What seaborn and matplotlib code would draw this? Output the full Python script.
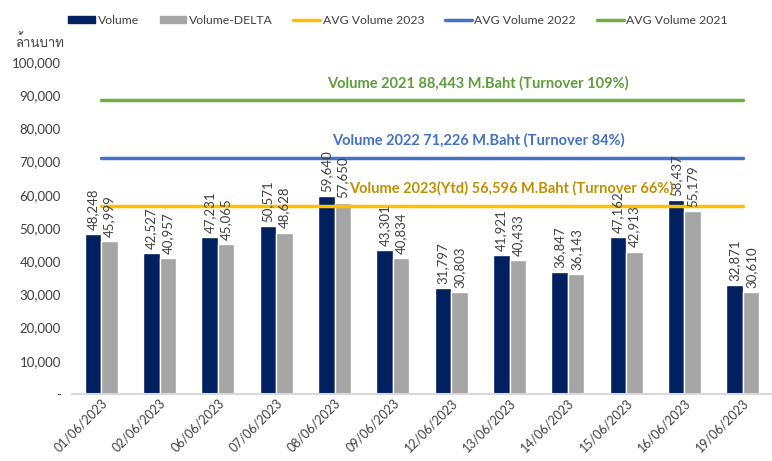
import numpy as np
import pandas as pd
import matplotlib
matplotlib.use("Agg")
import matplotlib.pyplot as plt
import seaborn as sns
from matplotlib import font_manager
from matplotlib.ft2font import FT2Font
from matplotlib.lines import Line2D
from matplotlib.patches import Patch

# data
dates = ["01/06/2023", "02/06/2023", "06/06/2023", "07/06/2023", "08/06/2023", "09/06/2023",
         "12/06/2023", "13/06/2023", "14/06/2023", "15/06/2023", "16/06/2023", "19/06/2023"]
volume = [48248, 42527, 47231, 50571, 59640, 43301, 31797, 41921, 36847, 47162, 58437, 32871]
volume_delta = [45999, 40957, 45065, 48628, 57650, 40834, 30803, 40433, 36143, 42913, 55179, 30610]
avg_2023 = 56596
avg_2022 = 71226
avg_2021 = 88443
y_ticks = [0, 10000, 20000, 30000, 40000, 50000, 60000, 70000, 80000, 90000, 100000]


def find_thai_font():
    # look for any installed font that carries Thai glyphs
    for f in font_manager.fontManager.ttflist:
        try:
            ft = FT2Font(f.fname)
            if ft.get_char_index(ord("ล")) and ft.get_char_index(ord("บ")):
                return f.name
        except Exception:
            continue
    return None


sns.set_style("white")
plt.rcParams["font.family"] = ["Lato", "DejaVu Sans"]
thai_font = find_thai_font()

df = pd.DataFrame({
    "date": dates * 2,
    "value": volume + volume_delta,
    "series": ["Volume"] * len(dates) + ["Volume-DELTA"] * len(dates),
})

fig = plt.figure(figsize=(7.72, 4.61), dpi=100)
ax = fig.add_axes([72 / 772, 1 - 394 / 461, 1 - 72 / 772, (394 - 62) / 461])

sns.barplot(data=df, x="date", y="value", hue="series",
            palette={"Volume": "#002060", "Volume-DELTA": "#A5A5A5"},
            width=0.57, gap=0, ax=ax, legend=False, saturation=1)

for cont in ax.containers:
    ax.bar_label(cont, labels=[f"{v:,.0f}" for v in cont.datavalues],
                 rotation=90, padding=3, fontsize=9.5, color="#404040")

x = np.arange(len(dates))
ax.plot(x, [avg_2023] * len(x), color="#FFC000", lw=2.5)
ax.plot(x, [avg_2022] * len(x), color="#4472C4", lw=2.5)
ax.plot(x, [avg_2021] * len(x), color="#70AD47", lw=2.5)

ax.text(6.45, 93700, f"Volume 2021 {avg_2021:,} M.Baht (Turnover 109%)",
        color="#5E9E3A", fontsize=10.5, fontweight="bold", ha="center", va="center")
ax.text(6.47, 76500, f"Volume 2022 {avg_2022:,} M.Baht (Turnover 84%)",
        color="#4472C4", fontsize=10.5, fontweight="bold", ha="center", va="center")
ax.text(7.03, 62000, f"Volume 2023(Ytd) {avg_2023:,} M.Baht (Turnover 66%)",
        color="#BF9000", fontsize=10.5, fontweight="bold", ha="center", va="center")

ax.set_xlim(-0.5, len(dates) - 0.5)
ax.set_ylim(0, 100000)
ax.set_yticks(y_ticks)
ax.set_yticklabels(["-" if t == 0 else f"{t:,}" for t in y_ticks])
ax.tick_params(axis="y", length=0, labelsize=9.5, labelcolor="#404040", pad=8)
ax.tick_params(axis="x", length=0, labelsize=9, labelcolor="#404040", pad=2)
plt.setp(ax.get_xticklabels(), rotation=45, ha="right", rotation_mode="anchor")
ax.set_xlabel("")
ax.set_ylabel("")
for s in ["top", "right", "left"]:
    ax.spines[s].set_visible(False)
ax.spines["bottom"].set_color("#D9D9D9")
ax.spines["bottom"].set_linewidth(1.5)

fam = [thai_font, "DejaVu Sans"] if thai_font else ["DejaVu Sans"]
fig.text(15 / 772, 1 - 42 / 461, "ล้านบาท", family=fam, fontsize=9.5,
         color="#404040", va="center", ha="left")

handles = [
    Patch(color="#002060"),
    Patch(color="#A5A5A5"),
    Line2D([], [], color="#FFC000", lw=2.5),
    Line2D([], [], color="#4472C4", lw=2.5),
    Line2D([], [], color="#70AD47", lw=2.5),
]
names = ["Volume", "Volume-DELTA", "AVG Volume 2023", "AVG Volume 2022", "AVG Volume 2021"]
fig.legend(handles, names, loc="center", bbox_to_anchor=(398 / 772, 1 - 20 / 461), ncol=5,
           frameon=False, fontsize=8.8, handlelength=2.2, handleheight=0.5,
           handletextpad=0.2, columnspacing=1.7, labelcolor="#404040")

fig.savefig("out.png", dpi=100)
